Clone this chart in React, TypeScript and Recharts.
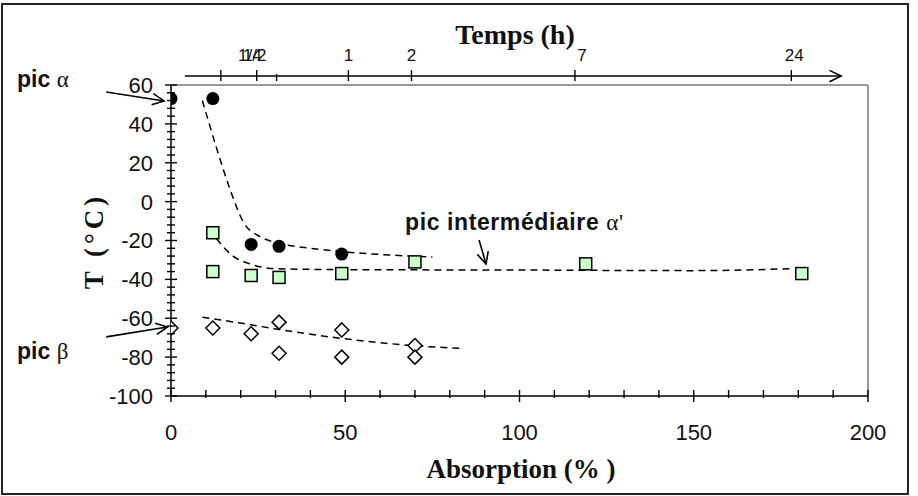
import React from 'react'
import { ComposedChart, Line, ReferenceLine, Scatter, XAxis, YAxis } from 'recharts'

// measured points (x = absorption %, y = temperature °C)
const alphaPeak = [
  { x: 0, y: 53 },
  { x: 12, y: 53 },
  { x: 23, y: -22 },
  { x: 31, y: -23 },
  { x: 49, y: -27 },
]

const intermediatePeak = [
  { x: 12, y: -16 },
  { x: 12, y: -36 },
  { x: 23, y: -38 },
  { x: 31, y: -39 },
  { x: 49, y: -37 },
  { x: 70, y: -31 },
  { x: 119, y: -32 },
  { x: 181, y: -37 },
]

const betaPeak = [
  { x: 0, y: -65 },
  { x: 12, y: -65 },
  { x: 23, y: -68 },
  { x: 31, y: -62 },
  { x: 31, y: -78 },
  { x: 49, y: -66 },
  { x: 49, y: -80 },
  { x: 70, y: -74 },
  { x: 70, y: -80 },
]

// hand drawn trend curves
const alphaTrend = [
  { x: 9, y: 52 },
  { x: 13, y: 28 },
  { x: 17, y: 6 },
  { x: 20.6, y: -10 },
  { x: 25.5, y: -18 },
  { x: 30, y: -21 },
  { x: 40, y: -24 },
  { x: 51, y: -26 },
  { x: 75, y: -28.5 },
]

const intermediateTrend = [
  { x: 13, y: -19 },
  { x: 17.8, y: -28 },
  { x: 22.6, y: -32 },
  { x: 30, y: -34.5 },
  { x: 50, y: -35 },
  { x: 100, y: -35.2 },
  { x: 150, y: -35.5 },
  { x: 178, y: -34.5 },
]

const betaTrend = [
  { x: 9, y: -59.5 },
  { x: 20, y: -62.5 },
  { x: 30, y: -65.5 },
  { x: 46, y: -69.7 },
  { x: 69, y: -74 },
  { x: 83, y: -75.5 },
]

// time scale drawn above the plot, ticks placed on the absorption axis
const timeAxisY = 64.6
const timeTickPos = [14.3, 24.6, 30.3, 50.9, 69, 115.9, 178]
const timeTickLabels = ['1/4', '1/2', '', '1', '2', '7', '24']
const timeLabelDx: Record<string, number> = { '1/4': 29, '1/2': -2, '7': 7, '24': 3 }

const xTicks: number[] = []
for (let v = 0; v <= 200; v += 10) xTicks.push(v)
const yTicks: number[] = []
for (let v = -100; v <= 60; v += 4) yTicks.push(v)

const sans = 'Liberation Sans, Arial, sans-serif'
const serif = 'Liberation Serif, Times New Roman, serif'

function YTick(props: any) {
  const x = Number(props.x)
  const y = Number(props.y)
  const v = props.payload.value
  const major = v % 20 === 0
  return (
    <g>
      <path d={`M${x - (major ? 6 : 4)},${y}H${x + (major ? 6 : 4)}`} stroke="#000" strokeWidth={1.4} fill="none" />
      {major && (
        <text x={x - 18} y={y} dy="0.36em" textAnchor="end" fontFamily={sans} fontSize={22} fill="#111">
          {v}
        </text>
      )}
    </g>
  )
}

function XTick(props: any) {
  const x = Number(props.x)
  const y = Number(props.y)
  const v = props.payload.value
  const major = v % 50 === 0
  return (
    <g>
      <path d={`M${x},${y - 6}V${y + (major ? 6 : 2)}`} stroke="#000" strokeWidth={1.4} fill="none" />
      {major && (
        <text x={x} y={y + 36} dy="0.36em" textAnchor="middle" fontFamily={sans} fontSize={22} fill="#111">
          {v}
        </text>
      )}
    </g>
  )
}

function TimeMark({ x1, y1, label }: any) {
  return (
    <g>
      <path d={`M${x1},${y1 - (label ? 6 : 2)}V${y1 + 5}`} stroke="#000" strokeWidth={1.4} fill="none" />
      {label && (
        <text x={x1 + (timeLabelDx[label] || 0)} y={y1 - 21} dy="0.36em" textAnchor="middle" fontFamily={sans} fontSize={17} fill="#111">
          {label}
        </text>
      )}
    </g>
  )
}

function Arrow({ x1, y1, x2, y2 }: any) {
  const a = Math.atan2(y2 - y1, x2 - x1)
  const len = 13
  const spread = 0.45
  const w1x = x2 - len * Math.cos(a - spread)
  const w1y = y2 - len * Math.sin(a - spread)
  const w2x = x2 - len * Math.cos(a + spread)
  const w2y = y2 - len * Math.sin(a + spread)
  return (
    <g stroke="#000" strokeWidth={1.6} fill="none">
      <line x1={x1} y1={y1} x2={x2} y2={y2} />
      <polyline points={`${w1x},${w1y} ${x2},${y2} ${w2x},${w2y}`} />
    </g>
  )
}

const circle = (p: any) => <circle cx={p.cx} cy={p.cy} r={6.5} fill="#000" />
const square = (p: any) => (
  <rect x={p.cx - 6} y={p.cy - 6} width={12} height={12} fill="#ccffcc" stroke="#000" strokeWidth={1.5} />
)
const diamond = (p: any) => (
  <polygon
    points={`${p.cx},${p.cy - 7} ${p.cx + 7},${p.cy} ${p.cx},${p.cy + 7} ${p.cx - 7},${p.cy}`}
    fill="#fff"
    stroke="#000"
    strokeWidth={1.5}
  />
)

export default function App() {
  return (
    <div style={{ position: 'absolute', left: 0, top: 0, width: 918, height: 496, background: '#fff' }}>
      <div
        style={{
          position: 'absolute',
          left: 1,
          top: 3,
          width: 908,
          height: 492,
          border: '2px solid #222',
          boxSizing: 'border-box',
        }}
      />
      <div style={{ position: 'absolute', left: 0, top: 0 }}>
        <ComposedChart width={918} height={496} margin={{ top: 85, right: 50, left: 111, bottom: 60 }}>
          <XAxis
            dataKey="x"
            type="number"
            domain={[0, 200]}
            ticks={xTicks}
            interval={0}
            height={40}
            tickSize={0}
            tickMargin={0}
            tickLine={false}
            tick={(p: any) => <XTick {...p} />}
            axisLine={{ stroke: '#000', strokeWidth: 1.5 }}
            allowDataOverflow
          />
          <YAxis
            type="number"
            domain={[-100, 60]}
            ticks={yTicks}
            interval={0}
            width={60}
            tickSize={0}
            tickMargin={0}
            tickLine={false}
            tick={(p: any) => <YTick {...p} />}
            axisLine={{ stroke: '#000', strokeWidth: 1.5 }}
            allowDataOverflow
          />
          <ReferenceLine y={60} stroke="#999" strokeWidth={2} />
          <ReferenceLine x={200} stroke="#999" strokeWidth={2} />

          <Line data={alphaTrend} dataKey="y" type="monotone" stroke="#000" strokeWidth={1.5} strokeDasharray="7 5" dot={false} activeDot={false} isAnimationActive={false} />
          <Line data={intermediateTrend} dataKey="y" type="monotone" stroke="#000" strokeWidth={1.5} strokeDasharray="7 5" dot={false} activeDot={false} isAnimationActive={false} />
          <Line data={betaTrend} dataKey="y" type="monotone" stroke="#000" strokeWidth={1.5} strokeDasharray="7 5" dot={false} activeDot={false} isAnimationActive={false} />

          <Scatter data={intermediatePeak} dataKey="y" shape={square} isAnimationActive={false} />
          <Scatter data={betaPeak} dataKey="y" shape={diamond} isAnimationActive={false} />
          <Scatter data={alphaPeak} dataKey="y" shape={circle} isAnimationActive={false} />

          {/* time arrow above the plot */}
          <ReferenceLine segment={[{ x: 4, y: timeAxisY }, { x: 192.3, y: timeAxisY }]} ifOverflow="visible" shape={Arrow} />
          {timeTickPos.map((pos, i) => (
            <ReferenceLine
              key={'t' + i}
              segment={[{ x: pos, y: timeAxisY }, { x: pos, y: timeAxisY }]}
              ifOverflow="visible"
              shape={(p: any) => <TimeMark {...p} label={timeTickLabels[i]} />}
            />
          ))}
          {/* annotation arrows */}
          <ReferenceLine segment={[{ x: -18.6, y: 56.4 }, { x: -2, y: 51.8 }]} ifOverflow="visible" shape={Arrow} />
          <ReferenceLine segment={[{ x: -18.6, y: -69.6 }, { x: -1, y: -64.5 }]} ifOverflow="visible" shape={Arrow} />
          <ReferenceLine segment={[{ x: 88.4, y: -19.7 }, { x: 90.4, y: -32.1 }]} ifOverflow="visible" shape={Arrow} />

          <text x={515} y={44} textAnchor="middle" fontFamily={serif} fontWeight="bold" fontSize={28} fill="#111">
            Temps (h)
          </text>
          <text x={521} y={478} textAnchor="middle" fontFamily={serif} fontWeight="bold" fontSize={27} fill="#111">
            Absorption (% )
          </text>
          <text
            x={94}
            y={241}
            transform="rotate(-90 94 241)"
            textAnchor="middle"
            dy="0.35em"
            fontFamily={serif}
            fontWeight="bold"
            fontSize={27}
            letterSpacing={4}
            fill="#111"
          >
            T (°C)
          </text>
          <text x={17} y={87} fontFamily={sans} fontWeight="bold" fontSize={23} fill="#111">
            pic <tspan fontFamily={serif} fontWeight="normal">α</tspan>
          </text>
          <text x={17} y={359} fontFamily={sans} fontWeight="bold" fontSize={23} fill="#111">
            pic <tspan fontFamily={serif} fontWeight="normal">β</tspan>
          </text>
          <text x={405} y={230} fontFamily={sans} fontWeight="bold" fontSize={23} letterSpacing={0.6} fill="#111">
            pic intermédiaire <tspan fontFamily={serif} fontWeight="normal">α'</tspan>
          </text>
        </ComposedChart>
      </div>
    </div>
  )
}
